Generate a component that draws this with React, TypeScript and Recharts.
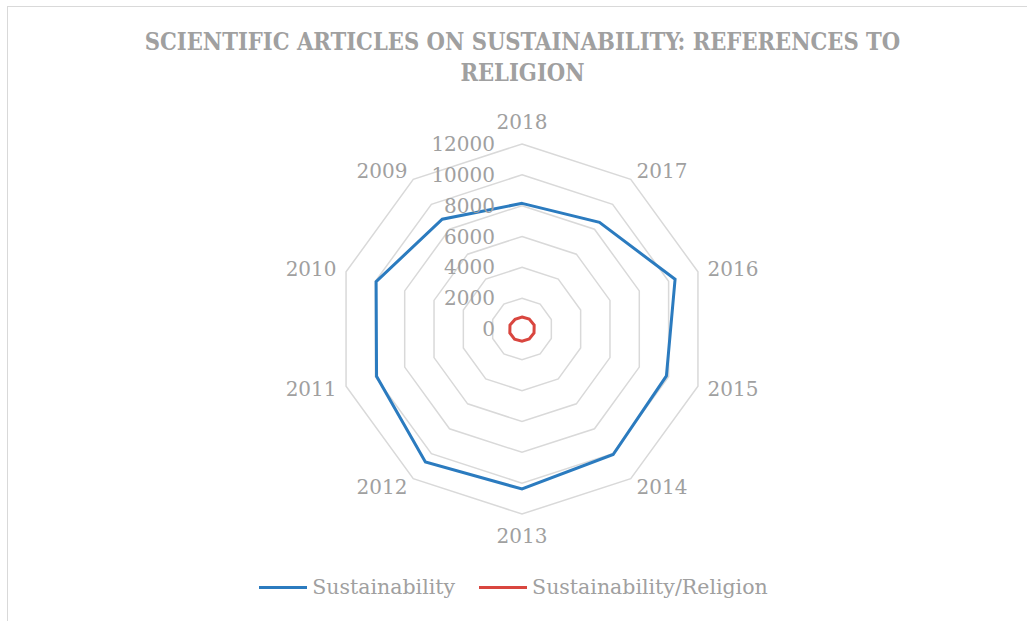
import React from 'react'
import { RadarChart, Radar, PolarGrid, PolarAngleAxis, PolarRadiusAxis, Legend } from 'recharts'

const years = ['2018', '2017', '2016', '2015', '2014', '2013', '2012', '2011', '2010', '2009']
const sustainability = [8150, 8550, 10440, 9850, 10060, 10380, 10660, 9920, 9950, 8800]
const religion = [780, 800, 830, 820, 800, 790, 820, 830, 820, 770]
const radiusTicks = [0, 2000, 4000, 6000, 8000, 10000, 12000]

const data = years.map((year, i) => ({
  year,
  sustainability: sustainability[i],
  religion: religion[i],
}))

const FONT = '"DejaVu Serif", serif'
const GRAY = '#a0a0a0'
const BLUE = '#2b7bbf'
const RED = '#d9463f'

function AngleTick(props: any) {
  const { x, y, cx, cy, payload } = props
  const dx = x - cx
  const dy = y - cy
  const len = Math.sqrt(dx * dx + dy * dy) || 1
  const ux = dx / len
  const uy = dy / len
  const dist = 185 + 10
  const anchor = ux > 0.1 ? 'start' : ux < -0.1 ? 'end' : 'middle'
  const tx = cx + dist * ux
  const ty = cy + dist * uy + (Math.abs(ux) < 0.1 ? uy * 12 : 0)
  return (
    <text x={tx} y={ty} textAnchor={anchor} dominantBaseline="central" fill={GRAY} fontSize={20} fontFamily={FONT}>
      {payload.value}
    </text>
  )
}

function RadiusTick(props: any) {
  const { x, y, payload } = props
  return (
    <text x={x - 27} y={y} textAnchor="end" dominantBaseline="central" fill={GRAY} fontSize={20} fontFamily={FONT}>
      {payload.value}
    </text>
  )
}

function LegendContent(props: any) {
  const { payload } = props
  return (
    <div style={{ display: 'flex', justifyContent: 'center', gap: 24, fontFamily: FONT, fontSize: 20.5, color: GRAY }}>
      {payload.map((entry: any) => (
        <div key={entry.value} style={{ display: 'flex', alignItems: 'center' }}>
          <span style={{ display: 'inline-block', width: 48, height: 3, background: entry.color, marginRight: 5 }} />
          <span>{entry.value}</span>
        </div>
      ))}
    </div>
  )
}

export default function App() {
  return (
    <div style={{ position: 'absolute', left: 0, top: 0, width: 1027, height: 621, overflow: 'hidden', background: '#fff' }}>
      <div
        style={{
          position: 'absolute',
          left: 7,
          top: 6,
          width: 1040,
          height: 640,
          border: '1.5px solid #d9d9d9',
        }}
      />
      <div
        style={{
          position: 'absolute',
          left: 0,
          top: 27,
          width: 1045,
          textAlign: 'center',
          fontFamily: '"DejaVu Serif Condensed", "DejaVu Serif", serif',
          fontWeight: 'bold',
          fontSize: 23.5,
          lineHeight: '31px',
          color: GRAY,
        }}
      >
        SCIENTIFIC ARTICLES ON SUSTAINABILITY: REFERENCES TO
        <br />
        RELIGION
      </div>
      <div style={{ position: 'absolute', left: 0, top: 0 }}>
        <RadarChart width={1027} height={621} data={data} cx={522} cy={329} outerRadius={185}>
          <PolarGrid gridType="polygon" radialLines={false} stroke="#d9d9d9" strokeWidth={1.5} />
          <PolarAngleAxis dataKey="year" tick={<AngleTick />} tickLine={false} axisLine={false} />
          <PolarRadiusAxis
            angle={90}
            domain={[0, 12000]}
            ticks={radiusTicks}
            tickCount={7}
            axisLine={false}
            tick={<RadiusTick />}
          />
          <Radar
            name="Sustainability"
            dataKey="sustainability"
            stroke={BLUE}
            strokeWidth={3}
            fill="none"
            fillOpacity={0}
            dot={false}
            isAnimationActive={false}
          />
          <Radar
            name="Sustainability/Religion"
            dataKey="religion"
            stroke={RED}
            strokeWidth={3}
            fill="none"
            fillOpacity={0}
            dot={false}
            isAnimationActive={false}
          />
          <Legend
            content={<LegendContent />}
            wrapperStyle={{ position: 'absolute', top: 575, left: 0, width: 1027 }}
          />
        </RadarChart>
      </div>
    </div>
  )
}
